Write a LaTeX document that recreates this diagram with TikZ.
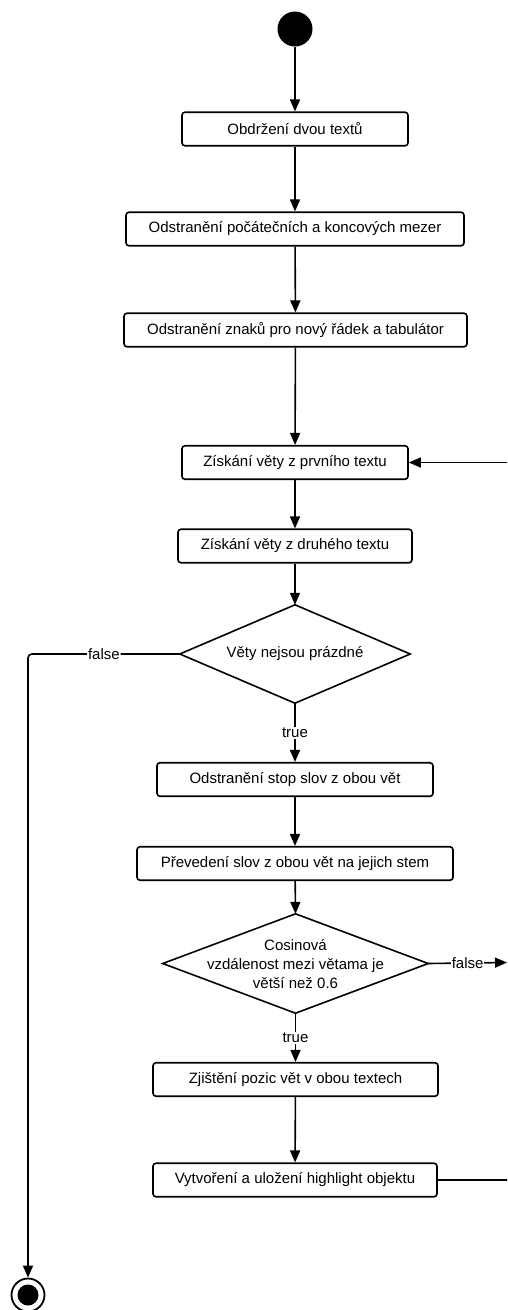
\documentclass[tikz,border=0pt]{standalone}
\usepackage{fontspec}
\setmainfont{Liberation Sans}
\usetikzlibrary{arrows.meta}
\begin{document}
\begin{tikzpicture}[x=1pt,y=-1pt,
  every node/.style={font=\fontsize{15}{19}\selectfont},
  line/.style={line width=1.6pt, draw=black},
  flow/.style={line, -{Triangle[length=12pt,width=10pt]}},
  action/.style={draw, line width=1.6pt, rounded corners=3pt, fill=white,
    minimum height=33.5pt, inner xsep=0pt, inner ysep=0pt},
  decbox/.style={inner sep=0pt},
  lbl/.style={fill=white, inner sep=1pt},
]
\useasboundingbox (0,0) rectangle (507,1310);
\clip (0,0) rectangle (507,1310);

% start and end states
\node[circle, fill=black, minimum size=35pt, inner sep=0pt] (start) at (295,29) {};
\node[circle, draw, line width=1.8pt, minimum size=33pt, inner sep=0pt,
  path picture={\fill (path picture bounding box.center) circle (10.5pt);}] (finish) at (28,1295) {};

% actions
\node[action, minimum width=226pt] (a1) at (295,129) {Obdržení dvou textů};
\node[action, minimum width=338pt] (a2) at (295,229) {Odstranění počátečních a koncových mezer};
\node[action, minimum width=343pt] (a3) at (295.5,330) {Odstranění znaků pro nový řádek a tabulátor};
\node[action, minimum width=226pt] (a4) at (295,462.5) {Získání věty z prvního textu};
\node[action, minimum width=234pt] (a5) at (295,546) {Získání věty z druhého textu};
\node[action, minimum width=276pt] (a6) at (295,779.5) {Odstranění stop slov z obou vět};
\node[action, minimum width=316pt] (a7) at (295,863.5) {Převedení slov z obou vět na jejich stem};
\node[action, minimum width=285pt] (a8) at (295.5,1079.5) {Zjištění pozic vět v obou textech};
\node[action, minimum width=284pt] (a9) at (295,1180) {Vytvoření a uložení highlight objektu};

% decisions
\node[decbox, minimum width=230pt, minimum height=98pt] (d1) at (295,654) {};
\draw[line] (d1.north) -- (d1.east) -- (d1.south) -- (d1.west) -- cycle;
\node at (d1.center) {Věty nejsou prázdné};

\node[decbox, minimum width=265pt, minimum height=99pt] (d2) at (295.5,963.5) {};
\draw[line] (d2.north) -- (d2.east) -- (d2.south) -- (d2.west) -- cycle;
\node[align=center] at ([yshift=-1pt]d2.center) {Cosinová\\vzdálenost mezi větama je\\větší než 0.6};

% helper points
\coordinate (fcorner) at (28,654);
\coordinate (rfalse) at (507,962.5);
\coordinate (rloop) at (514,1180);

% main flow
\draw[flow] (start) -- (a1);
\draw[flow] (a1) -- (a2);
\draw[flow] (a2) -- (a3);
\draw[flow] (a3) -- (a4);
\draw[flow] (a4) -- (a5);
\draw[flow] (a5) -- (d1.north);
\draw[flow] (d1.south) -- node[lbl] {true} (a6);
\draw[flow] (a6) -- (a7);
\draw[flow] (a7) -- (d2.north);
\draw[flow] (d2.south) -- node[lbl] {true} (a8);
\draw[flow] (a8) -- (a9);

% branches
\draw[flow, rounded corners=4pt] (d1.west) -- node[lbl] {false} (fcorner) -- (finish.north);
\draw[flow] (d2.east) -- node[lbl] {false} (rfalse);
\draw[flow] (a9.east) -- (rloop) |- (a4.east);
\end{tikzpicture}
\end{document}
